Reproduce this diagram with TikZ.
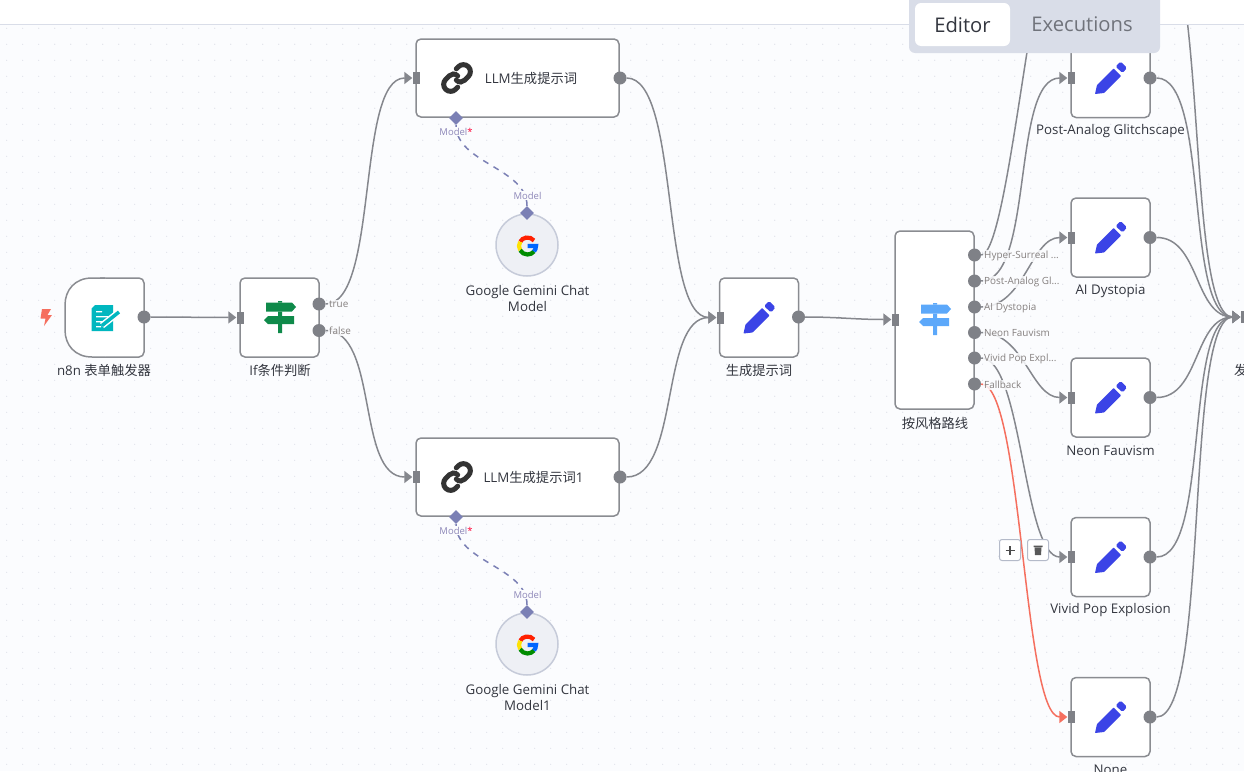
\documentclass[tikz,border=0pt]{standalone}
\usepackage{fontspec}
\setmainfont{Open Sans}
\newfontfamily\cjk{Noto Sans CJK SC}
\usepackage{xcolor}
\usetikzlibrary{arrows.meta,shapes,positioning,calc}
\definecolor{canvasbg}{HTML}{FBFCFE}
\definecolor{griddot}{HTML}{DCDFE7}
\definecolor{edgegray}{HTML}{85878D}
\definecolor{portgray}{HTML}{7F8187}
\definecolor{boxgray}{HTML}{8A8C91}
\definecolor{subgray}{HTML}{85807F}
\definecolor{modelblue}{HTML}{7B80B5}
\definecolor{modeltext}{HTML}{8D87B8}
\definecolor{titledark}{HTML}{33363F}
\definecolor{tabgray}{HTML}{D9DDE8}
\definecolor{execgray}{HTML}{70737B}
\definecolor{btngray}{HTML}{B4BAC9}
\definecolor{gemfill}{HTML}{EEF0F5}
\definecolor{gemline}{HTML}{C6CBD9}
\definecolor{fallred}{HTML}{F56F5F}
\definecolor{penblue}{HTML}{3B44E6}
\definecolor{signgreen}{HTML}{0F8A4A}
\definecolor{signblue}{HTML}{5CA8FA}
\definecolor{formteal}{HTML}{00B7BF}
\tikzset{
    box/.style={rectangle, rounded corners=5pt, draw=boxgray, line width=1.5pt, fill=white, minimum width=79pt, minimum height=79pt, inner sep=0pt},
    wide/.style={box, minimum width=203pt, minimum height=78pt},
    gemcircle/.style={circle, draw=gemline, line width=1.5pt, fill=gemfill, minimum size=62pt, inner sep=0pt},
    title/.style={text=titledark, align=center, font=\fontsize{13.3}{16}\selectfont, inner sep=0pt},
    outport/.style={circle, fill=portgray, minimum size=13pt, inner sep=0pt},
    inport/.style={rectangle, fill=portgray, minimum width=7pt, minimum height=12pt, inner sep=0pt},
    subport/.style={diamond, fill=modelblue, minimum width=14pt, minimum height=14pt, inner sep=0pt},
    sublabel/.style={text=modeltext, font=\fontsize{9.5}{11}\selectfont, inner sep=1pt, fill=canvasbg},
    outlabel/.style={text=subgray, font=\fontsize{9.9}{11}\selectfont, inner sep=1pt, anchor=west, fill=canvasbg, fill opacity=.85, text opacity=1},
    conn/.style={draw=edgegray, line width=1.5pt, -{Triangle[length=8pt,width=12pt]}},
    dashconn/.style={draw=modelblue, line width=1.5pt, dash pattern=on 6pt off 6pt},
    toolbtn/.style={rectangle, rounded corners=2.5pt, draw=btngray, line width=1pt, fill=white, minimum size=21pt, inner sep=0pt},
    tabtext/.style={font=\fontsize{20.2}{22}\selectfont, inner sep=0pt},
    pics/pencil/.style={code={
        \fill[penblue, rounded corners=.6pt] (-15.5,16) -- (-13.5,7) -- (3,-9.5) -- (10.5,-2) -- (-6.5,15) -- cycle;
        \fill[penblue, rounded corners=1.5pt] (5,-11.5) -- (10,-16.5) -- (16.5,-10) -- (12,-5) -- cycle;
    }},
    pics/signpost/.style={code={
        \fill[#1] (-2,-16) rectangle (2,-14.5) (-2,-5.5) rectangle (2,-1) (-2,7) rectangle (2,16);
        \fill[#1] (-14,-14.5) -- (12,-14.5) -- (16,-10) -- (12,-5.5) -- (-14,-5.5) -- cycle;
        \fill[#1] (14,-1) -- (-12,-1) -- (-16,3) -- (-12,7) -- (14,7) -- cycle;
    }},
    pics/chain/.style={code={
        \begin{scope}[rotate=45, line width=5pt, line cap=round]
            \draw[black!80] (2,-1) .. controls (2,-5) and (-1,-7) .. (-4,-7) -- (-9,-7) arc[start angle=-90, end angle=-270, radius=7] -- (-6,7);
            \draw[black!80] (-2,1) .. controls (-2,5) and (1,7) .. (4,7) -- (9,7) arc[start angle=90, end angle=-90, radius=7] -- (6,-7);
        \end{scope}
    }},
    pics/gicon/.style={code={
        \begin{scope}[line width=4.2pt]
            \draw[red!75!orange] (-40:8.5) arc[start angle=-40, end angle=-150, radius=8.5];
            \draw[yellow!85!orange] (-150:8.5) arc[start angle=-150, end angle=-210, radius=8.5];
            \draw[green!55!black] (-210:8.5) arc[start angle=-210, end angle=-320, radius=8.5];
            \draw[blue!60!cyan] (-320:8.5) arc[start angle=-320, end angle=-360, radius=8.5] -- (0,0);
        \end{scope}
    }},
    pics/formicon/.style={code={
        \fill[formteal] (-10,-13) -- (8,-13) -- (8,13) -- (-13.5,13) -- (-13.5,-9.5) -- cycle;
        \fill[white] (-9,-7) rectangle (-3,-5.6) (-9,-2) rectangle (3,-.6) (-9,3) rectangle (-1,4.4) (-9,8) rectangle (-4,9.4);
        \draw[white, line width=6.5pt] (-3,7.5) -- (14,-6);
        \draw[formteal, line width=3.5pt] (-3,7.5) -- (14,-6);
    }}
}
\newcommand{\nodetitle}[3]{\node[title] at (#1,#2) {#3};}
\begin{document}
\begin{tikzpicture}[x=1pt, y=-1pt]
    \useasboundingbox (0,0) rectangle (1244,771);
    \fill[canvasbg] (0,0) rectangle (1244,771);
    % Grid dots
    \foreach \gx in {0,...,77} {
        \foreach \gy in {0,...,47} {
            \fill[griddot] ({6.7+16*\gx},{12.3+16*\gy}) circle[radius=.6];
        }
    }

    % Nodes
    \draw[boxgray, line width=1.5pt, fill=white, rounded corners=5pt] (100,278) -- (144,278) -- (144,357) -- (100,357);
    \draw[boxgray, line width=1.5pt, fill=white] (105,278) -- (92,278) .. controls (75,278) and (65,290) .. (65,305) -- (65,330) .. controls (65,345) and (75,357) .. (92,357) -- (105,357);
    \node[minimum width=79pt, minimum height=79pt, inner sep=0pt] (trigger) at (104.5,317.5) {};
    \node[box] (ifnode) at (279.5,317.5) {};
    \node[wide] (llma) at (517.5,78) {};
    \node[wide] (llmb) at (517.5,477) {};
    \node[gemcircle] (gema) at (527,245) {};
    \node[gemcircle] (gemb) at (527,644) {};
    \node[box] (setprompt) at (759,317.5) {};
    \node[box, minimum height=178pt] (router) at (934.5,320) {};
    \node[box] (postanalog) at (1110.5,78) {};
    \node[box] (aidys) at (1110.5,237.5) {};
    \node[box] (neon) at (1110.5,397.5) {};
    \node[box] (vivid) at (1110.5,557) {};
    \node[box] (nonenode) at (1110.5,717) {};

    % Ports
    \node[outport] (triggerout) at (144,317) {};
    \node[inport] (ifin) at (240,317.5) {};
    \node[outport] (iftrue) at (319,304) {};
    \node[outport] (iffalse) at (319,330.5) {};
    \node[inport] (llmain) at (416,78) {};
    \node[outport] (llmaout) at (620,78) {};
    \node[inport] (llmbin) at (416,477) {};
    \node[outport] (llmbout) at (620,477) {};
    \node[subport] (llmamodel) at (456,118) {};
    \node[subport] (llmbmodel) at (456,517) {};
    \node[subport] (gemaout) at (527,213) {};
    \node[subport] (gembout) at (527,612) {};
    \node[inport] (setin) at (720,317.5) {};
    \node[outport] (setout) at (798.5,317) {};
    \node[inport] (routerin) at (895,319.5) {};
    \node[outport] (rta) at (974.5,255) {};
    \node[outport] (rtb) at (974.5,281) {};
    \node[outport] (rtc) at (974.5,307) {};
    \node[outport] (rtd) at (974.5,332.5) {};
    \node[outport] (rte) at (974.5,358) {};
    \node[outport] (rtf) at (974.5,384) {};
    \coordinate (hyperin) at (1069,-82);
    \coordinate (hyperout) at (1150,-82);
    \node[inport] (postin) at (1071,78) {};
    \node[outport] (postout) at (1150,78) {};
    \node[inport] (aiin) at (1071,237.5) {};
    \node[outport] (aiout) at (1150,237.5) {};
    \node[inport] (neonin) at (1071,397.5) {};
    \node[outport] (neonout) at (1150,397.5) {};
    \node[inport] (vividin) at (1071,557) {};
    \node[outport] (vividout) at (1150,557) {};
    \node[inport] (nonein) at (1071,717) {};
    \node[outport] (noneout) at (1150,717) {};
    \node[inport] (mergein) at (1244,317) {};

    % Connectors
    \draw[conn] (triggerout) -- (ifin);
    \draw[conn] (iftrue) .. controls +(60,0) and +(-60,0) .. (llmain);
    \draw[conn] (iffalse) .. controls +(60,0) and +(-60,0) .. (llmbin);
    \draw[conn] (llmaout) .. controls +(60,0) and +(-60,0) .. (setin);
    \draw[conn] (llmbout) .. controls +(60,0) and +(-60,0) .. (setin);
    \draw[conn] (setout) .. controls +(40,0) and +(-40,0) .. (routerin);
    \draw[conn] (rta) .. controls +(35,0) and +(-35,0) .. (hyperin);
    \draw[conn] (rtb) .. controls +(60,0) and +(-60,0) .. (postin);
    \draw[conn] (rtc) .. controls +(50,0) and +(-40,0) .. (aiin);
    \draw[conn] (rtd) .. controls +(50,0) and +(-40,0) .. (neonin);
    \draw[conn] (rte) .. controls +(48,0) and +(-48,0) .. (vividin);
    \draw[conn, draw=fallred, -{Triangle[length=8pt,width=12pt,fill=fallred]}] (rtf) .. controls +(48,0) and +(-48,0) .. (nonein);
    \draw[conn] (hyperout) .. controls +(60,0) and +(-60,0) .. (mergein);
    \draw[conn] (postout) .. controls +(60,0) and +(-60,0) .. (mergein);
    \draw[conn] (aiout) .. controls +(50,0) and +(-50,0) .. (mergein);
    \draw[conn] (neonout) .. controls +(50,0) and +(-50,0) .. (mergein);
    \draw[conn] (vividout) .. controls +(60,0) and +(-60,0) .. (mergein);
    \draw[conn] (noneout) .. controls +(60,0) and +(-60,0) .. (mergein);
    \draw[dashconn] (gemaout) .. controls +(0,-45) and +(0,45) .. (llmamodel);
    \draw[dashconn] (gembout) .. controls +(0,-45) and +(0,45) .. (llmbmodel);

    % Port labels
    \node[outlabel] (ltrue) at (328,304) {true};
    \node[outlabel] (lfalse) at (328,331) {false};
    \node[outlabel] (lhyper) at (983,255.7) {Hyper-Surreal ...};
    \node[outlabel] (lpost) at (983,281.7) {Post-Analog Gl...};
    \node[outlabel] (lai) at (983,307.7) {AI Dystopia};
    \node[outlabel] (lneon) at (983,333.2) {Neon Fauvism};
    \node[outlabel] (lvivid) at (983,358.7) {Vivid Pop Expl...};
    \node[outlabel] (lfall) at (983,384.7) {Fallback};
    \node[sublabel] (lmodela) at (456,131.5) {Model\textcolor{red!80!magenta}{*}};
    \node[sublabel] (lmodelb) at (456,530.5) {Model\textcolor{red!80!magenta}{*}};
    \node[sublabel] (lgema) at (527.5,195.5) {Model};
    \node[sublabel] (lgemb) at (527.5,594.5) {Model};

    % Icons
    \fill[fallred] (42,309) -- (51,309) -- (47.5,315) -- (52,315) -- (44,326) -- (45.5,318.5) -- (40.5,318.5) -- cycle;
    \pic at (105,318) {formicon};
    \pic at (280,317) {signpost=signgreen};
    \pic at (935,319) {signpost=signblue};
    \pic at (457,78) {chain};
    \pic at (457,477) {chain};
    \pic at (527.5,246) {gicon};
    \pic at (527.5,645) {gicon};
    \pic at (759,317.5) {pencil};
    \pic at (1110.5,78) {pencil};
    \pic at (1110.5,237.5) {pencil};
    \pic at (1110.5,397.5) {pencil};
    \pic at (1110.5,557) {pencil};
    \pic at (1110.5,717) {pencil};

    % Titles
    \nodetitle{104}{370.5}{n8n {\cjk 表单触发器}}
    \nodetitle{280}{370.5}{If{\cjk 条件判断}}
    \nodetitle{531}{78.5}{LLM{\cjk 生成提示词}}
    \nodetitle{533.5}{477.5}{LLM{\cjk 生成提示词}1}
    \nodetitle{527.5}{298.5}{Google Gemini Chat\\Model}
    \nodetitle{527.5}{697.5}{Google Gemini Chat\\Model1}
    \nodetitle{759}{370.5}{{\cjk 生成提示词}}
    \nodetitle{935}{423.5}{{\cjk 按风格路线}}
    \nodetitle{1110.5}{131}{Post-Analog Glitchscape}
    \nodetitle{1110.5}{291}{AI Dystopia}
    \nodetitle{1110.5}{451}{Neon Fauvism}
    \nodetitle{1110.5}{610}{Vivid Pop Explosion}
    \nodetitle{1110.5}{770}{None}
    \node[title, anchor=west] (mergetitle) at (1234,370.5) {{\cjk 发}};

    % Edge toolbar
    \node[toolbtn] (addbtn) at (1010,550) {};
    \node[toolbtn] (delbtn) at (1038,550) {};
    \draw[black!70, line width=1.4pt] (1005.5,550.5) -- (1014.5,550.5) (1010,546) -- (1010,555);
    \fill[black!65] (1033.5,545.5) rectangle (1042.5,547) (1034.5,547.5) -- (1041.5,547.5) -- (1041,555) -- (1035,555) -- cycle;

    % Top bar and tabs
    \fill[white] (0,0) rectangle (1244,24);
    \draw[tabgray, line width=1pt] (0,24.5) -- (1244,24.5);
    \fill[tabgray, rounded corners=6pt] (909,-10) rectangle (1160,53);
    \node[rectangle, rounded corners=6pt, fill=white, minimum width=95pt, minimum height=43pt, text=titledark, tabtext] (editortab) at (962.5,24.5) {Editor};
    \node[text=execgray, tabtext] (exectab) at (1082,24.5) {Executions};
\end{tikzpicture}
\end{document}
